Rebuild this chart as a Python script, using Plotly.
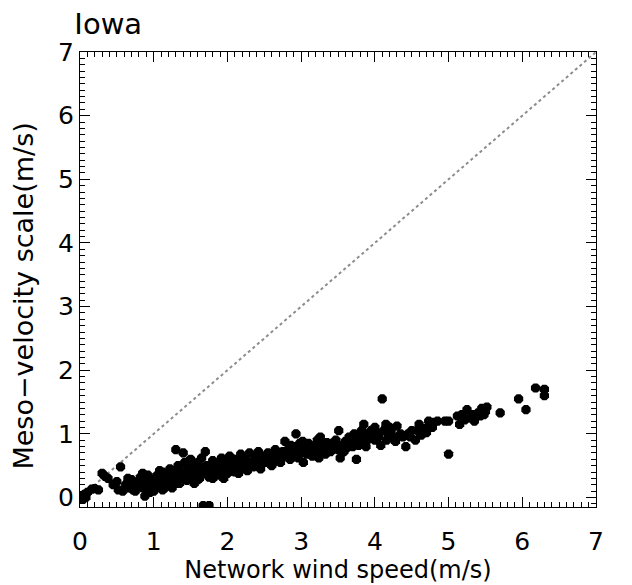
import plotly.graph_objects as go

# Network wind speed (m/s) and meso-velocity scale (m/s)
wind_speed = [
    0.04, 0.06, 0.08, 0.10, 0.16, 0.20, 0.25, 0.30, 0.34, 0.38, 0.45, 0.50, 0.55, 0.52, 0.58,
    0.62, 0.66, 0.70, 0.72, 0.75, 0.78, 0.80, 0.82, 0.85, 0.88, 0.90, 0.93, 0.95, 0.98,
    1.00, 1.02, 1.05, 1.07, 1.10, 1.12, 1.15, 1.17, 1.20, 1.22, 1.25, 1.27, 1.30, 1.30,
    1.33, 1.35, 1.37, 1.40, 1.40, 1.42, 1.45, 1.47, 1.50, 1.50,
    1.52, 1.55, 1.57, 1.60, 1.60, 1.63, 1.65, 1.67, 1.70, 1.70, 1.72, 1.75, 1.75, 1.78,
    1.80, 1.82, 1.85, 1.87, 1.90, 1.92, 1.95, 1.97, 2.00, 2.00,
    2.03, 2.05, 2.08, 2.10, 2.12, 2.15, 2.18, 2.20, 2.22, 2.25, 2.28, 2.30, 2.32, 2.35,
    2.38, 2.40, 2.42, 2.45, 2.48, 2.50,
    2.52, 2.55, 2.58, 2.60, 2.62, 2.65, 2.68, 2.70, 2.72, 2.75, 2.78, 2.80, 2.82, 2.85,
    2.88, 2.90, 2.92, 2.93, 2.95, 2.98,
    3.00, 3.03, 3.05, 3.08, 3.10, 3.12, 3.15, 3.18, 3.20, 3.22, 3.25, 3.28, 3.30, 3.33,
    3.35, 3.38, 3.40, 3.43, 3.47, 3.50, 3.51, 3.53,
    3.55, 3.60, 3.62, 3.65, 3.68, 3.70, 3.72, 3.75, 3.77, 3.80, 3.82, 3.85, 3.87, 3.90,
    3.92, 3.95, 3.97, 4.00, 4.00,
    4.03, 4.05, 4.08, 4.10, 4.12, 4.15, 4.18, 4.20, 4.25, 4.30, 4.35, 4.38, 4.42, 4.45, 4.50,
    4.55, 4.58, 4.60, 4.63, 4.67, 4.70, 4.73, 4.75, 4.80, 4.85, 4.95, 5.00, 5.00,
    5.12, 5.15, 5.18, 5.22, 5.25, 5.28, 5.32, 5.35, 5.40, 5.43, 5.45, 5.48, 5.50, 5.52,
    5.70, 5.95, 6.05, 6.18, 6.30, 6.30,
    # extra points filling the dense band
    0.65, 0.72, 0.85, 0.95, 1.05, 1.12, 1.18, 1.25, 1.32, 1.45, 1.55, 1.62, 1.68, 1.80,
    1.88, 1.95, 2.07, 2.15, 2.27, 2.36, 2.45, 2.55, 2.63, 2.72, 2.83, 2.96, 3.06, 3.14,
    3.24, 3.32, 3.42, 3.58, 3.66, 3.78, 3.88, 4.02, 4.16, 4.22, 4.28, 4.48, 4.62, 4.78,
    0.92, 1.08, 1.28, 1.48, 1.66, 1.84, 2.02, 2.24, 2.44, 2.66, 2.86, 3.02, 3.26, 3.46,
]
meso_scale = [
    -0.03, 0.05, 0.00, 0.08, 0.13, 0.14, 0.12, 0.38, 0.33, 0.30, 0.20, 0.25, 0.48, 0.12, 0.10,
    0.20, 0.15, 0.28, 0.20, 0.10, 0.18, 0.25, 0.32, 0.15, 0.02, 0.22, 0.12, 0.30, 0.20,
    0.10, 0.26, 0.35, 0.18, 0.22, 0.40, 0.15, 0.30, 0.25, 0.45, 0.20, 0.35, 0.75, 0.28,
    0.50, 0.22, 0.40, 0.70, 0.32, 0.55, 0.27, 0.42, 0.36, 0.60,
    0.30, 0.48, 0.35, 0.28, 0.55, 0.42, 0.62, -0.13, 0.72, 0.38, 0.50, -0.13, 0.32, 0.45,
    0.58, 0.40, 0.52, 0.35, 0.48, 0.62, 0.42, 0.55, 0.38, 0.50,
    0.65, 0.45, 0.55, 0.40, 0.60, 0.50, 0.68, 0.45, 0.57, 0.62, 0.50, 0.70, 0.55, 0.48,
    0.63, 0.58, 0.72, 0.52, 0.65, 0.60,
    0.55, 0.70, 0.62, 0.50, 0.67, 0.75, 0.60, 0.68, 0.55, 0.72, 0.88, 0.65, 0.75, 0.60,
    0.70, 0.80, 0.66, 1.00, 0.75, 0.85,
    0.70, 0.55, 0.78, 0.68, 0.85, 0.72, 0.65, 0.80, 0.75, 0.90, 0.70, 0.82, 0.76, 0.68,
    0.86, 0.78, 0.72, 0.80, 0.90, 0.75, 1.05, 0.62,
    0.82, 0.88, 0.78, 0.95, 0.85, 0.80, 1.00, 0.60, 0.90, 0.95, 1.05, 1.15, 0.88, 1.00,
    0.92, 1.05, 0.97, 1.10, 0.90,
    1.00, 0.95, 0.82, 1.55, 1.05, 1.15, 0.98, 1.10, 0.95, 1.12, 1.00, 0.95, 0.80, 1.00, 1.05,
    0.90, 1.05, 1.15, 0.98, 1.08, 1.02, 1.20, 1.10, 1.18, 1.20, 1.20, 1.20, 0.68,
    1.28, 1.15, 1.30, 1.22, 1.38, 1.25, 1.30, 1.20, 1.33, 1.28, 1.40, 1.30, 1.35, 1.42,
    1.33, 1.55, 1.38, 1.72, 1.70, 1.60,
    # extra points filling the dense band
    0.30, 0.12, 0.38, 0.08, 0.30, 0.12, 0.38, 0.15, 0.22, 0.50, 0.22, 0.30, 0.45, 0.30,
    0.42, 0.30, 0.48, 0.38, 0.42, 0.52, 0.45, 0.62, 0.55, 0.62, 0.68, 0.62, 0.70, 0.78,
    0.62, 0.70, 0.85, 0.72, 0.90, 0.82, 0.80, 1.02, 0.90, 1.02, 0.88, 0.95, 1.00, 1.10,
    0.35, 0.42, 0.42, 0.48, 0.48, 0.55, 0.58, 0.52, 0.52, 0.58, 0.82, 0.88, 0.95, 0.82,
]
diag = [0, 7]
x_ticks = [0, 1, 2, 3, 4, 5, 6, 7]
y_ticks = [0, 1, 2, 3, 4, 5, 6, 7]

font_family = "DejaVu Sans"

fig = go.Figure()
fig.add_trace(go.Scatter(
    x=diag, y=diag, mode="lines",
    line=dict(color="#8c8c8c", width=2, dash="dot"),
    hoverinfo="skip", showlegend=False,
))
fig.add_trace(go.Scatter(
    x=wind_speed, y=meso_scale, mode="markers",
    marker=dict(symbol="octagon", size=10, color="black", line=dict(width=0)),
    showlegend=False, cliponaxis=True,
))

axis_common = dict(
    showgrid=False, zeroline=False,
    showline=True, linecolor="black", linewidth=1, mirror="allticks",
    ticks="inside", ticklen=10, tickcolor="black", tickwidth=1,
    tickfont=dict(family=font_family, size=25, color="black"),
    minor=dict(dtick=0.1, ticks="inside", ticklen=5, tickcolor="black", tickwidth=1),
)

fig.update_xaxes(
    range=[0, 7], tickvals=x_ticks, ticktext=[str(v) for v in x_ticks],
    ticklabelstandoff=12,
    title=dict(text="Network wind speed(m/s)", font=dict(family=font_family, size=24, color="black"), standoff=0),
    **axis_common,
)
fig.update_yaxes(
    range=[-0.15, 7], tickvals=y_ticks, ticktext=[str(v) for v in y_ticks],
    ticklabelstandoff=0,
    **axis_common,
)

fig.add_annotation(
    text="Meso−velocity scale(m/s)", xref="paper", yref="paper",
    x=-0.11, y=0.463, xanchor="center", yanchor="middle", showarrow=False, textangle=-90,
    font=dict(family=font_family, size=27, color="black"),
)

fig.update_layout(
    width=632, height=585,
    margin=dict(l=72, r=44, t=44, b=86),
    paper_bgcolor="white", plot_bgcolor="white",
    title=dict(text="Iowa", x=0.105, xref="container", xanchor="left", y=0.99, yanchor="top",
               font=dict(family=font_family, size=29, color="black")),
)

fig.write_html("out.html")
